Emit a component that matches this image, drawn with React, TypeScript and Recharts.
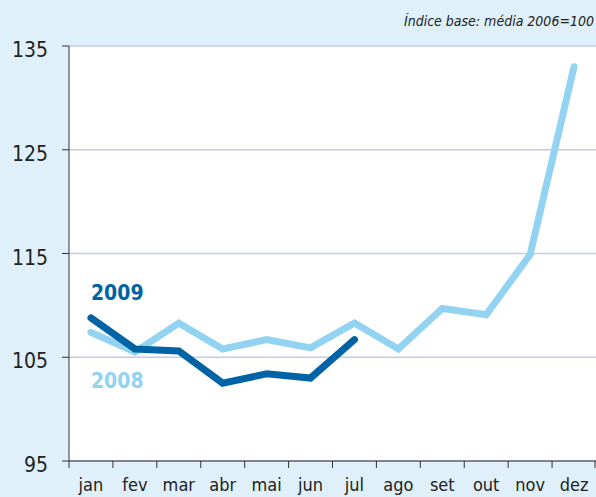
import React from 'react';
import { LineChart, Line, XAxis, YAxis, CartesianGrid } from 'recharts';

const months = ['jan', 'fev', 'mar', 'abr', 'mai', 'jun', 'jul', 'ago', 'set', 'out', 'nov', 'dez'];
const values2008 = [107.4, 105.5, 108.3, 105.8, 106.7, 105.9, 108.3, 105.8, 109.7, 109.1, 114.9, 133.0];
const values2009 = [108.8, 105.8, 105.6, 102.5, 103.4, 103.0, 106.7];
const yTicks = [95, 105, 115, 125, 135];

const FONT = "'DejaVu Sans Condensed', 'DejaVu Sans', sans-serif";
const DARK = '#0063a6';
const LIGHT = '#93d3f2';

const data = months.map((m, i) => ({
    month: m,
    y2008: values2008[i],
    y2009: i < values2009.length ? values2009[i] : null,
}));

const MonthTick = (props: any) => {
    const { x, y, payload, index } = props;
    const half = payload && payload.offset ? payload.offset : 527 / 24;
    return (
        <g>
            <line x1={x - half} x2={x - half} y1={y - 8} y2={y - 1} stroke="#333" />
            {index === months.length - 1 && (
                <line x1={x + half - 1} x2={x + half - 1} y1={y - 8} y2={y - 1} stroke="#333" />
            )}
            <text x={x} y={y + 22} textAnchor="middle" fill="#222" fontSize={18} fontFamily={FONT}>
                {payload.value}
            </text>
        </g>
    );
};

const ValueTick = (props: any) => {
    const { x, y, payload } = props;
    return (
        <text x={x} y={y + 11} textAnchor="end" fill="#222" fontSize={21} fontFamily={FONT}>
            {payload.value}
        </text>
    );
};

const seriesLabel = (text: string, color: string, dy: number) => (props: any) => {
    if (props.index !== 0) return null;
    return (
        <text x={props.x} y={props.y + dy} fill={color} fontSize={21} fontWeight="bold" fontFamily={FONT}>
            {text}
        </text>
    );
};

export default function App() {
    return (
        <div style={{ position: 'absolute', left: 0, top: 0, width: 596, height: 497, background: '#dff0fa' }}>
            <div
                style={{
                    position: 'absolute', right: 2, top: 13, fontFamily: FONT, fontStyle: 'italic',
                    fontSize: 14, color: '#222',
                }}
            >
                Índice base: média 2006=100
            </div>
            <LineChart width={596} height={497} data={data} margin={{ top: 46, right: 0, bottom: 0, left: 0 }}>
                <CartesianGrid vertical={false} fill="#ffffff" stroke="#c4cbe8" strokeWidth={1.5} />
                <XAxis
                    dataKey="month"
                    scale="band"
                    height={36}
                    stroke="#333"
                    tickLine={false}
                    tick={<MonthTick />}
                    interval={0}
                />
                <YAxis
                    domain={[95, 135]}
                    ticks={yTicks}
                    width={69}
                    stroke="#333"
                    tickSize={7}
                    tickMargin={14}
                    tick={<ValueTick />}
                />
                <Line
                    dataKey="y2008"
                    stroke={LIGHT}
                    strokeWidth={7}
                    dot={false}
                    strokeLinecap="round"
                    strokeLinejoin="miter"
                    isAnimationActive={false}
                    label={seriesLabel('2008', LIGHT, 56)}
                />
                <Line
                    dataKey="y2009"
                    stroke={DARK}
                    strokeWidth={7}
                    dot={false}
                    strokeLinecap="round"
                    strokeLinejoin="miter"
                    isAnimationActive={false}
                    label={seriesLabel('2009', DARK, -18)}
                />
            </LineChart>
        </div>
    );
}
